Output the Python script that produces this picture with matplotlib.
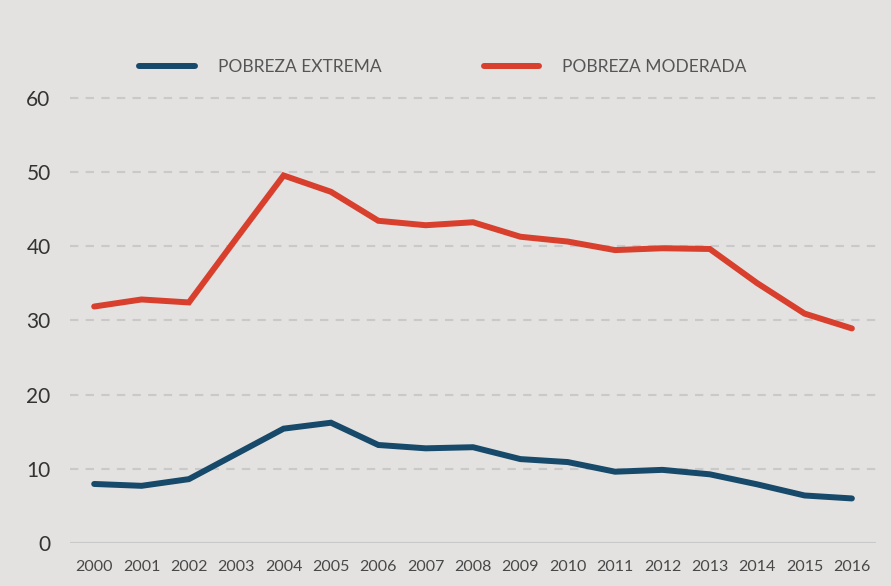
import matplotlib.pyplot as plt

# data
years = list(range(2000, 2017))
extrema = [7.95, 7.7, 8.6, 12.0, 15.4, 16.2, 13.2, 12.75, 12.9, 11.3, 10.9,
           9.6, 9.85, 9.25, 7.9, 6.4, 6.0]
moderada = [31.85, 32.8, 32.4, 41.0, 49.5, 47.3, 43.4, 42.8, 43.2, 41.25, 40.6,
            39.45, 39.7, 39.6, 35.0, 30.9, 28.9]
yticks = [0, 10, 20, 30, 40, 50, 60]

bg = '#e3e2e0'
blue = '#17496a'
red = '#d83f2c'
grid_c = '#c9c9c9'

plt.rcParams['font.family'] = ['Lato', 'DejaVu Sans']

fig = plt.figure(figsize=(8.91, 5.86), dpi=100, facecolor=bg)
ax = fig.add_axes([0.0786, 0.0734, 0.9046, 0.7665], facecolor=bg)

#dashed grid lines
for t in yticks[1:]:
    ax.axhline(t, color=grid_c, lw=1.5, dashes=(4, 3.5), zorder=1)
ax.axhline(0, color=grid_c, lw=1.5, zorder=1)

ax.plot(years, extrema, color=blue, lw=4.3, solid_capstyle='round',
        solid_joinstyle='miter', label='POBREZA EXTREMA', zorder=3)
ax.plot(years, moderada, color=red, lw=4.3, solid_capstyle='round',
        solid_joinstyle='miter', label='POBREZA MODERADA', zorder=3)

ax.set_xlim(1999.49, 2016.51)
ax.set_ylim(0, 60.5)
ax.set_xticks(years)
ax.set_xticklabels([str(y) for y in years], fontsize=11.5, color='#484848')
ax.set_yticks(yticks)
ax.set_yticklabels([str(t) for t in yticks], fontsize=15, color='#333333')
ax.tick_params(axis='x', length=0, pad=12)
ax.tick_params(axis='y', length=0, pad=14)
for s in ax.spines.values():
    s.set_visible(False)

leg = fig.legend(loc='center', bbox_to_anchor=(0.497, 0.886), ncol=2,
                 frameon=False, fontsize=12.5, handlelength=3.2,
                 handletextpad=1.3, columnspacing=5.9)
for txt in leg.get_texts():
    txt.set_color('#555555')

fig.savefig('out.png', dpi=100, facecolor=bg)
